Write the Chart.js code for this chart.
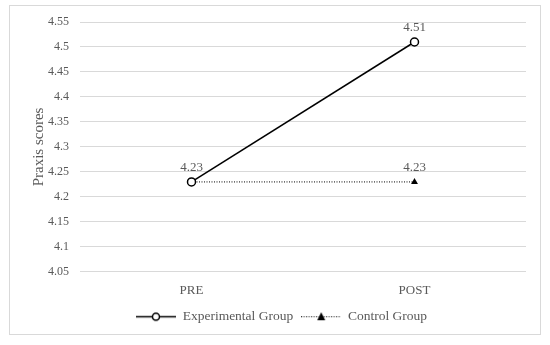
<!DOCTYPE html>
<html>
<head>
<meta charset="utf-8">
<script src="https://cdn.jsdelivr.net/npm/chart.js@4"></script>
<style>
body { margin: 0; background: #fff; }
#wrap { width: 550px; height: 345px; }
</style>
</head>
<body>
<div id="wrap"><canvas id="praxisChart" width="550" height="345"></canvas></div>
<script>
const categories = ["PRE", "POST"];
const experimentalScores = [4.23, 4.51];
const controlScores = [4.23, 4.23];
const yTicks = { min: 4.05, max: 4.55, step: 0.05 };
const yTitle = "Praxis scores";

const FONT = "'Liberation Serif', 'Times New Roman', serif";
const GREY = "#595959";

// small legend swatch: line with the marker in the middle
function makeSwatch(marker, dashed){
    const c = document.createElement('canvas');
    c.width = 40; c.height = 12;
    const g = c.getContext('2d');
    g.strokeStyle = '#000';
    g.lineWidth = dashed ? 1 : 1.5;
    if (dashed) g.setLineDash([1, 1.5]);
    g.beginPath(); g.moveTo(0, 6.5); g.lineTo(40, 6.5); g.stroke();
    g.setLineDash([]);
    if (marker === 'circle'){
        g.fillStyle = '#fff'; g.lineWidth = 1.5;
        g.beginPath(); g.arc(20, 6.5, 3.5, 0, Math.PI * 2); g.fill(); g.stroke();
    } else {
        g.fillStyle = '#000';
        g.beginPath(); g.moveTo(20, 2); g.lineTo(24, 10); g.lineTo(16, 10); g.closePath(); g.fill();
    }
    return c;
}

// outer border + rotated y title (kept close to the tick labels like the original)
const frame = {
    id: 'frame',
    beforeDraw(chart){
        const ctx = chart.ctx;
        ctx.save();
        ctx.strokeStyle = '#d9d9d9';
        ctx.lineWidth = 1;
        ctx.strokeRect(9.5, 5.5, 531, 329);
        const area = chart.chartArea;
        ctx.translate(39, (area.top + area.bottom) / 2);
        ctx.rotate(-Math.PI / 2);
        ctx.font = "15px " + FONT;
        ctx.fillStyle = GREY;
        ctx.textAlign = 'center';
        ctx.textBaseline = 'middle';
        ctx.fillText(yTitle, 0, 0);
        ctx.restore();
    }
};

const valueLabels = {
    id: 'valueLabels',
    afterDatasetsDraw(chart){
        const ctx = chart.ctx;
        ctx.save();
        ctx.font = "13px " + FONT;
        ctx.fillStyle = GREY;
        ctx.textAlign = 'center';
        ctx.textBaseline = 'bottom';
        chart.data.datasets.forEach((ds, di) => {
            chart.getDatasetMeta(di).data.forEach((pt, i) => {
                if (di === 1 && ds.data[i] === chart.data.datasets[0].data[i]) return;
                ctx.fillText(ds.data[i].toFixed(2), pt.x, pt.y - 8);
            });
        });
        ctx.restore();
    }
};

new Chart(document.getElementById('praxisChart'), {
    type: 'line',
    data: {
        labels: categories,
        datasets: [{
            label: 'Experimental Group',
            data: experimentalScores,
            borderColor: '#000',
            borderWidth: 1.5,
            pointStyle: 'circle',
            pointRadius: 4,
            pointBackgroundColor: '#fff',
            pointBorderColor: '#000',
            pointBorderWidth: 1.5
        }, {
            label: 'Control Group',
            data: controlScores,
            borderColor: '#000',
            borderWidth: 1,
            borderDash: [1, 1.5],
            pointStyle: 'triangle',
            pointRadius: 4,
            pointBackgroundColor: '#000',
            pointBorderColor: '#000',
            pointBorderWidth: 0
        }]
    },
    options: {
        responsive: false,
        animation: false,
        layout: { padding: { left: 37, right: 24, top: 22, bottom: 12 } },
        plugins: {
            tooltip: { enabled: false },
            legend: {
                position: 'bottom',
                labels: {
                    usePointStyle: true,
                    pointStyleWidth: 40,
                    font: { family: FONT, size: 13.5 },
                    color: GREY,
                    padding: 8,
                    generateLabels(chart){
                        return [
                            { text: 'Experimental Group', pointStyle: makeSwatch('circle', false), fontColor: GREY, datasetIndex: 0 },
                            { text: 'Control Group', pointStyle: makeSwatch('triangle', true), fontColor: GREY, datasetIndex: 1 }
                        ];
                    }
                }
            }
        },
        scales: {
            x: {
                offset: true,
                grid: { display: false },
                border: { display: false },
                ticks: { font: { family: FONT, size: 13 }, color: GREY, padding: 3 }
            },
            y: {
                min: yTicks.min,
                max: yTicks.max,
                border: { display: false },
                grid: { color: '#d9d9d9', lineWidth: 1, drawTicks: false },
                ticks: {
                    stepSize: yTicks.step,
                    font: { family: FONT, size: 12 },
                    color: GREY,
                    padding: 11,
                    callback: v => String(+v.toFixed(2))
                }
            }
        }
    },
    plugins: [frame, valueLabels]
});
</script>
</body>
</html>
